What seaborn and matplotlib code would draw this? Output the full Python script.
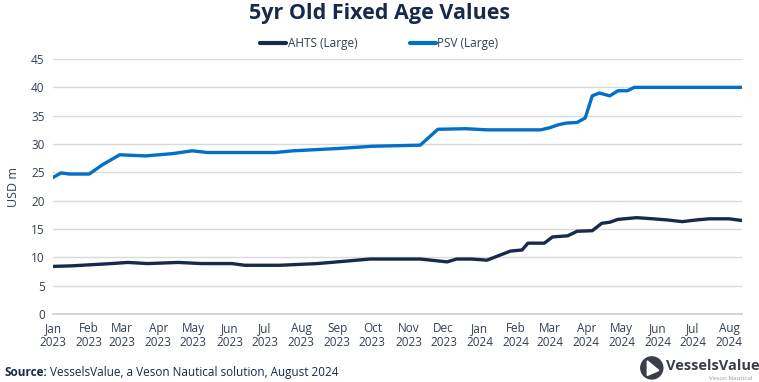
import pandas as pd
import matplotlib.pyplot as plt
import matplotlib.dates as mdates
from matplotlib.patches import Circle, Polygon
import seaborn as sns

# values (USD m)
ahts_dates = ["2023-01-01", "2023-01-17", "2023-02-20", "2023-03-06", "2023-03-23",
              "2023-04-18", "2023-05-08", "2023-06-03", "2023-06-14", "2023-07-14",
              "2023-08-15", "2023-09-01", "2023-09-29", "2023-11-11", "2023-12-04",
              "2023-12-12", "2023-12-25", "2024-01-07", "2024-01-27", "2024-02-06",
              "2024-02-11", "2024-02-25", "2024-03-03", "2024-03-16", "2024-03-24",
              "2024-04-06", "2024-04-14", "2024-04-21", "2024-04-28", "2024-05-14",
              "2024-05-28", "2024-06-09", "2024-06-22", "2024-07-04", "2024-07-15",
              "2024-08-01", "2024-08-12"]
ahts_values = [8.4, 8.5, 8.9, 9.1, 8.9,
               9.1, 8.9, 8.9, 8.6, 8.6,
               8.9, 9.2, 9.7, 9.7, 9.2,
               9.7, 9.7, 9.5, 11.1, 11.3,
               12.5, 12.5, 13.6, 13.8, 14.6,
               14.7, 16.0, 16.2, 16.7, 17.0,
               16.8, 16.6, 16.3, 16.6, 16.8,
               16.8, 16.5]

psv_dates = ["2023-01-01", "2023-01-08", "2023-01-15", "2023-02-01", "2023-02-12",
             "2023-02-27", "2023-03-21", "2023-04-13", "2023-04-30", "2023-05-13",
             "2023-07-10", "2023-07-25", "2023-09-01", "2023-10-01", "2023-11-11",
             "2023-11-26", "2023-12-20", "2024-01-07", "2024-02-22", "2024-03-01",
             "2024-03-08", "2024-03-15", "2024-03-24", "2024-03-31", "2024-04-06",
             "2024-04-12", "2024-04-21", "2024-04-28", "2024-05-06", "2024-05-12",
             "2024-08-12"]
psv_values = [24.1, 24.9, 24.7, 24.7, 26.3,
              28.1, 27.9, 28.3, 28.8, 28.5,
              28.5, 28.8, 29.2, 29.6, 29.8,
              32.6, 32.7, 32.5, 32.5, 32.9,
              33.4, 33.7, 33.8, 34.6, 38.5,
              39.0, 38.5, 39.4, 39.4, 40.0,
              40.0]

series_names = ["AHTS (Large)", "PSV (Large)"]
colors = ["#172a4b", "#0070c9"]

df = pd.concat([
    pd.DataFrame({"date": pd.to_datetime(ahts_dates), "value": ahts_values, "series": series_names[0]}),
    pd.DataFrame({"date": pd.to_datetime(psv_dates), "value": psv_values, "series": series_names[1]}),
])

sns.set_theme(style="white")
plt.rcParams["font.family"] = ["Open Sans", "DejaVu Sans"]

fig = plt.figure(figsize=(7.59, 3.82), dpi=100)
ax = fig.add_axes([0.0698, 0.178, 0.9078, 0.6675])

sns.lineplot(data=df, x="date", y="value", hue="series", palette=colors,
             linewidth=2.4, ax=ax, legend=False)

ax.set_xlim(pd.Timestamp("2023-01-01"), pd.Timestamp("2024-08-12"))
ax.set_ylim(0, 45)
ax.set_yticks(range(0, 46, 5))
ax.yaxis.grid(True, color="#d9d9d9", linewidth=1)
ax.set_axisbelow(True)

ax.xaxis.set_major_locator(mdates.MonthLocator())
ax.xaxis.set_major_formatter(mdates.DateFormatter("%b\n%Y"))

for s in ["top", "right", "left"]:
    ax.spines[s].set_visible(False)
ax.spines["bottom"].set_color("#d0d0d0")
ax.tick_params(axis="x", colors="#d0d0d0", length=4, width=1, pad=2, labelcolor="#333f52", labelsize=8.5)
ax.tick_params(axis="y", length=0, pad=6, labelcolor="#333f52", labelsize=8.5)
for lbl in ax.get_xticklabels():
    lbl.set_linespacing(1.1)

ax.set_xlabel("")
ax.set_ylabel("USD m", color="#333f52", fontsize=9, labelpad=8)

fig.text(0.5, 0.965, "5yr Old Fixed Age Values", ha="center", va="center",
         fontsize=15.5, fontweight="bold", color="#172a4b")

handles = [plt.Line2D([], [], color=c, linewidth=3) for c in colors]
fig.legend(handles, series_names, loc="center", bbox_to_anchor=(0.5, 0.885), ncol=2,
           frameon=False, fontsize=8.5, handlelength=2.2, handletextpad=0.1,
           columnspacing=4.5, labelcolor="#333f52")

fig.text(0.006, 0.026, "Source:", fontsize=8.5, fontweight="bold", color="#172a4b", va="center")
fig.text(0.066, 0.026, "VesselsValue, a Veson Nautical solution, August 2024",
         fontsize=8.5, color="#172a4b", va="center")

# logo (axes in pixel-like units: 125 x 38)
logo = fig.add_axes([0.835, 0.0, 0.165, 0.1])
logo.set_xlim(0, 125)
logo.set_ylim(0, 38)
logo.axis("off")
logo.add_patch(Circle((18, 14), 11, color="#3a3f47"))
logo.add_patch(Polygon([(13.5, 21), (13.5, 6.5), (25, 11.5)], closed=True, color="white"))
logo.text(32, 15.5, "VesselsValue", fontsize=10.5, fontweight="bold", color="#3a3f47", va="center")
logo.text(118, 3, "Veson Nautical", fontsize=4.5, color="#9a9a9a", ha="right", va="center")

fig.savefig("out.png", dpi=100)
